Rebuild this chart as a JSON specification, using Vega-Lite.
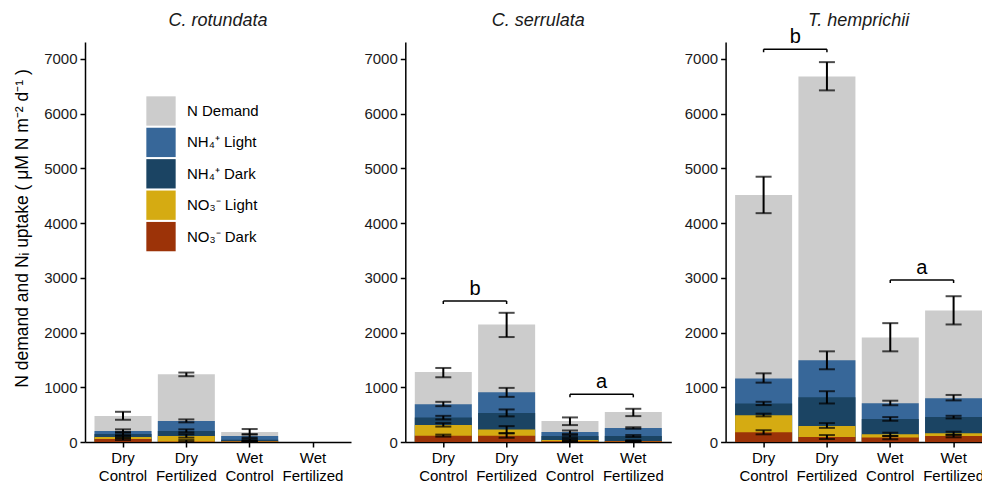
{
  "$schema": "https://vega.github.io/schema/vega-lite/v6.json",
  "padding": {"left": 13, "top": 11, "right": -10, "bottom": 1},
  "background": "white",
  "bounds": "flush",
  "spacing": 54.3,
  "config": {
    "font": "Liberation Sans",
    "view": {"stroke": null},
    "axis": {"grid": false, "domainColor": "black", "domainWidth": 1.5, "tickColor": "black", "tickWidth": 1.5, "tickSize": 5, "labelFont": "Liberation Sans", "labelFontSize": 15, "labelColor": "#1a1a1a", "titleFont": "Liberation Sans", "titleFontSize": 17.5, "titleFontWeight": "normal", "titleColor": "black"},
    "axisX": {"labelPadding": 3, "labelLineHeight": 18, "labelColor": "black", "labelFontSize": 15},
    "axisY": {"labelPadding": 3, "titlePadding": 12, "format": "d"},
    "title": {"font": "Liberation Sans", "fontSize": 18, "fontStyle": "italic", "fontWeight": "normal", "anchor": "middle", "frame": "group", "baseline": "alphabetic", "offset": 12, "color": "#1a1a1a"}
  },
  "datasets": {
    "bars": [
      {"species": "C. rotundata", "treatment": "Dry Control", "series": "N Demand", "value": 473, "lo": 406, "hi": 552},
      {"species": "C. rotundata", "treatment": "Dry Fertilized", "series": "N Demand", "value": 1238, "lo": 1202, "hi": 1269},
      {"species": "C. rotundata", "treatment": "Wet Control", "series": "N Demand", "value": 182, "lo": 140, "hi": 237},
      {"species": "C. serrulata", "treatment": "Dry Control", "series": "N Demand", "value": 1280, "lo": 1183, "hi": 1353},
      {"species": "C. serrulata", "treatment": "Dry Fertilized", "series": "N Demand", "value": 2148, "lo": 1918, "hi": 2361},
      {"species": "C. serrulata", "treatment": "Wet Control", "series": "N Demand", "value": 382, "lo": 309, "hi": 449},
      {"species": "C. serrulata", "treatment": "Wet Fertilized", "series": "N Demand", "value": 546, "lo": 473, "hi": 607},
      {"species": "T. hemprichii", "treatment": "Dry Control", "series": "N Demand", "value": 4515, "lo": 4182, "hi": 4848},
      {"species": "T. hemprichii", "treatment": "Dry Fertilized", "series": "N Demand", "value": 6681, "lo": 6426, "hi": 6942},
      {"species": "T. hemprichii", "treatment": "Wet Control", "series": "N Demand", "value": 1911, "lo": 1657, "hi": 2172},
      {"species": "T. hemprichii", "treatment": "Wet Fertilized", "series": "N Demand", "value": 2403, "lo": 2148, "hi": 2664},

      {"species": "C. rotundata", "treatment": "Dry Control", "series": "NH₄⁺ Light", "value": 200, "lo": 182, "hi": 231},
      {"species": "C. rotundata", "treatment": "Dry Fertilized", "series": "NH₄⁺ Light", "value": 382, "lo": 359, "hi": 413},
      {"species": "C. rotundata", "treatment": "Wet Control", "series": "NH₄⁺ Light", "value": 109, "lo": 80, "hi": 140},
      {"species": "C. serrulata", "treatment": "Dry Control", "series": "NH₄⁺ Light", "value": 692, "lo": 655, "hi": 734},
      {"species": "C. serrulata", "treatment": "Dry Fertilized", "series": "NH₄⁺ Light", "value": 910, "lo": 825, "hi": 989},
      {"species": "C. serrulata", "treatment": "Wet Control", "series": "NH₄⁺ Light", "value": 182, "lo": 150, "hi": 210},
      {"species": "C. serrulata", "treatment": "Wet Fertilized", "series": "NH₄⁺ Light", "value": 255, "lo": 242, "hi": 270},
      {"species": "T. hemprichii", "treatment": "Dry Control", "series": "NH₄⁺ Light", "value": 1160, "lo": 1085, "hi": 1255},
      {"species": "T. hemprichii", "treatment": "Dry Fertilized", "series": "NH₄⁺ Light", "value": 1493, "lo": 1329, "hi": 1657},
      {"species": "T. hemprichii", "treatment": "Wet Control", "series": "NH₄⁺ Light", "value": 710, "lo": 672, "hi": 755},
      {"species": "T. hemprichii", "treatment": "Wet Fertilized", "series": "NH₄⁺ Light", "value": 801, "lo": 760, "hi": 860},

      {"species": "C. rotundata", "treatment": "Dry Control", "series": "NH₄⁺ Dark", "value": 146, "lo": 125, "hi": 168},
      {"species": "C. rotundata", "treatment": "Dry Fertilized", "series": "NH₄⁺ Dark", "value": 200, "lo": 177, "hi": 231},
      {"species": "C. rotundata", "treatment": "Wet Control", "series": "NH₄⁺ Dark", "value": 40, "lo": 25, "hi": 60},
      {"species": "C. serrulata", "treatment": "Dry Control", "series": "NH₄⁺ Dark", "value": 450, "lo": 413, "hi": 478},
      {"species": "C. serrulata", "treatment": "Dry Fertilized", "series": "NH₄⁺ Dark", "value": 528, "lo": 468, "hi": 595},
      {"species": "C. serrulata", "treatment": "Wet Control", "series": "NH₄⁺ Dark", "value": 109, "lo": 85, "hi": 127},
      {"species": "C. serrulata", "treatment": "Wet Fertilized", "series": "NH₄⁺ Dark", "value": 109, "lo": 91, "hi": 127},
      {"species": "T. hemprichii", "treatment": "Dry Control", "series": "NH₄⁺ Dark", "value": 705, "lo": 675, "hi": 735},
      {"species": "T. hemprichii", "treatment": "Dry Fertilized", "series": "NH₄⁺ Dark", "value": 819, "lo": 704, "hi": 928},
      {"species": "T. hemprichii", "treatment": "Wet Control", "series": "NH₄⁺ Dark", "value": 420, "lo": 388, "hi": 455},
      {"species": "T. hemprichii", "treatment": "Wet Fertilized", "series": "NH₄⁺ Dark", "value": 455, "lo": 431, "hi": 479},

      {"species": "C. rotundata", "treatment": "Dry Control", "series": "NO₃⁻ Light", "value": 91, "lo": 70, "hi": 110},
      {"species": "C. rotundata", "treatment": "Dry Fertilized", "series": "NO₃⁻ Light", "value": 109, "lo": 80, "hi": 140},
      {"species": "C. rotundata", "treatment": "Wet Control", "series": "NO₃⁻ Light", "value": 15, "lo": 5, "hi": 25},
      {"species": "C. serrulata", "treatment": "Dry Control", "series": "NO₃⁻ Light", "value": 309, "lo": 282, "hi": 345},
      {"species": "C. serrulata", "treatment": "Dry Fertilized", "series": "NO₃⁻ Light", "value": 230, "lo": 160, "hi": 290},
      {"species": "C. serrulata", "treatment": "Wet Control", "series": "NO₃⁻ Light", "value": 36, "lo": 20, "hi": 55},
      {"species": "C. serrulata", "treatment": "Wet Fertilized", "series": "NO₃⁻ Light", "value": 20, "lo": 10, "hi": 30},
      {"species": "T. hemprichii", "treatment": "Dry Control", "series": "NO₃⁻ Light", "value": 490, "lo": 468, "hi": 518},
      {"species": "T. hemprichii", "treatment": "Dry Fertilized", "series": "NO₃⁻ Light", "value": 291, "lo": 258, "hi": 345},
      {"species": "T. hemprichii", "treatment": "Wet Control", "series": "NO₃⁻ Light", "value": 140, "lo": 109, "hi": 170},
      {"species": "T. hemprichii", "treatment": "Wet Fertilized", "series": "NO₃⁻ Light", "value": 158, "lo": 130, "hi": 188},

      {"species": "C. rotundata", "treatment": "Dry Control", "series": "NO₃⁻ Dark", "value": 55, "lo": 35, "hi": 75},
      {"species": "C. rotundata", "treatment": "Dry Fertilized", "series": "NO₃⁻ Dark", "value": 8, "lo": 0, "hi": 35},
      {"species": "C. rotundata", "treatment": "Wet Control", "series": "NO₃⁻ Dark", "value": 8, "lo": 2, "hi": 15},
      {"species": "C. serrulata", "treatment": "Dry Control", "series": "NO₃⁻ Dark", "value": 115, "lo": 98, "hi": 135},
      {"species": "C. serrulata", "treatment": "Dry Fertilized", "series": "NO₃⁻ Dark", "value": 115, "lo": 78, "hi": 160},
      {"species": "C. serrulata", "treatment": "Wet Control", "series": "NO₃⁻ Dark", "value": 12, "lo": 5, "hi": 20},
      {"species": "C. serrulata", "treatment": "Wet Fertilized", "series": "NO₃⁻ Dark", "value": 12, "lo": 5, "hi": 20},
      {"species": "T. hemprichii", "treatment": "Dry Control", "series": "NO₃⁻ Dark", "value": 180, "lo": 140, "hi": 215},
      {"species": "T. hemprichii", "treatment": "Dry Fertilized", "series": "NO₃⁻ Dark", "value": 91, "lo": 55, "hi": 127},
      {"species": "T. hemprichii", "treatment": "Wet Control", "series": "NO₃⁻ Dark", "value": 80, "lo": 50, "hi": 110},
      {"species": "T. hemprichii", "treatment": "Wet Fertilized", "series": "NO₃⁻ Dark", "value": 109, "lo": 85, "hi": 132}
    ],
    "brackets": [
      {"species": "C. serrulata", "left": "Dry Control", "right": "Dry Fertilized", "y": 2577, "ylow": 2522, "label": "b", "labely": 2690},
      {"species": "C. serrulata", "left": "Wet Control", "right": "Wet Fertilized", "y": 871, "ylow": 816, "label": "a", "labely": 985},
      {"species": "T. hemprichii", "left": "Dry Control", "right": "Dry Fertilized", "y": 7178, "ylow": 7123, "label": "b", "labely": 7292},
      {"species": "T. hemprichii", "left": "Wet Control", "right": "Wet Fertilized", "y": 2961, "ylow": 2906, "label": "a", "labely": 3078}
    ]
  },
  "resolve": {"scale": {"color": "independent"}, "legend": {"color": "independent"}},
  "hconcat": [
    {
      "width": 266, "height": 400,
      "title": {"text": "C. rotundata"},
      "layer": [
        {
          "data": {"name": "bars"},
          "transform": [{"filter": "datum.species === 'C. rotundata'"}],
          "mark": {"type": "bar"},
          "encoding": {
            "x": {"field": "treatment", "type": "nominal", "title": null, "scale": {"domain": ["Dry Control", "Dry Fertilized", "Wet Control", "Wet Fertilized"], "paddingInner": 0.1, "paddingOuter": 0.15}, "axis": {"labelExpr": "split(datum.label, ' ')", "labelAngle": 0}},
            "y": {"field": "value", "type": "quantitative", "stack": null, "title": "N demand and Nᵢ uptake ( μM N m⁻² d⁻¹ )", "scale": {"domain": [0, 7310], "nice": false}, "axis": {"values": [0, 1000, 2000, 3000, 4000, 5000, 6000, 7000], "titleY": 186}},
            "color": {"field": "series", "type": "nominal", "sort": null,
              "scale": {"domain": ["N Demand", "NH₄⁺ Light", "NH₄⁺ Dark", "NO₃⁻ Light", "NO₃⁻ Dark"], "range": ["#CCCCCC", "#376799", "#1B4463", "#D5AB12", "#9C3308"]},
              "legend": {"title": null, "orient": "none", "legendX": 61, "legendY": 54, "symbolType": "square", "symbolSize": 860, "symbolStrokeWidth": 0, "labelFontSize": 15, "labelOffset": 11, "rowPadding": 1.4, "padding": 0, "labelColor": "black", "labelFont": "Liberation Sans"}}
          }
        },
        {
          "data": {"name": "bars"},
          "transform": [{"filter": "datum.species === 'C. rotundata'"}],
          "mark": {"type": "errorbar", "ticks": true, "size": 16, "thickness": 2, "color": "black"},
          "encoding": {
            "x": {"field": "treatment", "type": "nominal"},
            "y": {"field": "lo", "type": "quantitative", "title": "N demand and Nᵢ uptake ( μM N m⁻² d⁻¹ )"},
            "y2": {"field": "hi"}
          }
        }
      ]
    },
    {
      "width": 266, "height": 400,
      "title": {"text": "C. serrulata"},
      "layer": [
        {
          "data": {"name": "bars"},
          "transform": [{"filter": "datum.species === 'C. serrulata'"}],
          "mark": {"type": "bar"},
          "encoding": {
            "x": {"field": "treatment", "type": "nominal", "title": null, "scale": {"domain": ["Dry Control", "Dry Fertilized", "Wet Control", "Wet Fertilized"], "paddingInner": 0.1, "paddingOuter": 0.15}, "axis": {"labelExpr": "split(datum.label, ' ')", "labelAngle": 0}},
            "y": {"field": "value", "type": "quantitative", "stack": null, "title": null, "scale": {"domain": [0, 7310], "nice": false}, "axis": {"values": [0, 1000, 2000, 3000, 4000, 5000, 6000, 7000], "title": null}},
            "color": {"field": "series", "type": "nominal", "sort": null,
              "scale": {"domain": ["N Demand", "NH₄⁺ Light", "NH₄⁺ Dark", "NO₃⁻ Light", "NO₃⁻ Dark"], "range": ["#CCCCCC", "#376799", "#1B4463", "#D5AB12", "#9C3308"]},
              "legend": null}
          }
        },
        {
          "data": {"name": "bars"},
          "transform": [{"filter": "datum.species === 'C. serrulata'"}],
          "mark": {"type": "errorbar", "ticks": true, "size": 16, "thickness": 2, "color": "black"},
          "encoding": {
            "x": {"field": "treatment", "type": "nominal"},
            "y": {"field": "lo", "type": "quantitative", "title": null},
            "y2": {"field": "hi"}
          }
        },
        {
          "data": {"name": "brackets"},
          "transform": [{"filter": "datum.species === 'C. serrulata'"}],
          "mark": {"type": "rule", "strokeWidth": 1.5, "color": "black"},
          "encoding": {"x": {"field": "left", "type": "nominal"}, "x2": {"field": "right"}, "y": {"field": "y", "type": "quantitative", "title": null}}
        },
        {
          "data": {"name": "brackets"},
          "transform": [{"filter": "datum.species === 'C. serrulata'"}],
          "mark": {"type": "rule", "strokeWidth": 1.5, "color": "black"},
          "encoding": {"x": {"field": "left", "type": "nominal"}, "y": {"field": "y", "type": "quantitative", "title": null}, "y2": {"field": "ylow"}}
        },
        {
          "data": {"name": "brackets"},
          "transform": [{"filter": "datum.species === 'C. serrulata'"}],
          "mark": {"type": "rule", "strokeWidth": 1.5, "color": "black"},
          "encoding": {"x": {"field": "right", "type": "nominal"}, "y": {"field": "y", "type": "quantitative", "title": null}, "y2": {"field": "ylow"}}
        },
        {
          "data": {"name": "brackets"},
          "transform": [{"filter": "datum.species === 'C. serrulata'"}],
          "mark": {"type": "text", "fontSize": 20, "baseline": "alphabetic", "align": "center", "color": "black", "font": "Liberation Sans"},
          "encoding": {"x": {"field": "left", "type": "nominal", "bandPosition": 1.0556}, "y": {"field": "labely", "type": "quantitative", "title": null}, "text": {"field": "label"}}
        }
      ]
    },
    {
      "width": 266, "height": 400,
      "title": {"text": "T. hemprichii", "offset": -3},
      "layer": [
        {
          "data": {"name": "bars"},
          "transform": [{"filter": "datum.species === 'T. hemprichii'"}],
          "mark": {"type": "bar"},
          "encoding": {
            "x": {"field": "treatment", "type": "nominal", "title": null, "scale": {"domain": ["Dry Control", "Dry Fertilized", "Wet Control", "Wet Fertilized"], "paddingInner": 0.1, "paddingOuter": 0.15}, "axis": {"labelExpr": "split(datum.label, ' ')", "labelAngle": 0}},
            "y": {"field": "value", "type": "quantitative", "stack": null, "title": null, "scale": {"domain": [0, 7310], "nice": false}, "axis": {"values": [0, 1000, 2000, 3000, 4000, 5000, 6000, 7000], "title": null}},
            "color": {"field": "series", "type": "nominal", "sort": null,
              "scale": {"domain": ["N Demand", "NH₄⁺ Light", "NH₄⁺ Dark", "NO₃⁻ Light", "NO₃⁻ Dark"], "range": ["#CCCCCC", "#376799", "#1B4463", "#D5AB12", "#9C3308"]},
              "legend": null}
          }
        },
        {
          "data": {"name": "bars"},
          "transform": [{"filter": "datum.species === 'T. hemprichii'"}],
          "mark": {"type": "errorbar", "ticks": true, "size": 16, "thickness": 2, "color": "black"},
          "encoding": {
            "x": {"field": "treatment", "type": "nominal"},
            "y": {"field": "lo", "type": "quantitative", "title": null},
            "y2": {"field": "hi"}
          }
        },
        {
          "data": {"name": "brackets"},
          "transform": [{"filter": "datum.species === 'T. hemprichii'"}],
          "mark": {"type": "rule", "strokeWidth": 1.5, "color": "black"},
          "encoding": {"x": {"field": "left", "type": "nominal"}, "x2": {"field": "right"}, "y": {"field": "y", "type": "quantitative", "title": null}}
        },
        {
          "data": {"name": "brackets"},
          "transform": [{"filter": "datum.species === 'T. hemprichii'"}],
          "mark": {"type": "rule", "strokeWidth": 1.5, "color": "black"},
          "encoding": {"x": {"field": "left", "type": "nominal"}, "y": {"field": "y", "type": "quantitative", "title": null}, "y2": {"field": "ylow"}}
        },
        {
          "data": {"name": "brackets"},
          "transform": [{"filter": "datum.species === 'T. hemprichii'"}],
          "mark": {"type": "rule", "strokeWidth": 1.5, "color": "black"},
          "encoding": {"x": {"field": "right", "type": "nominal"}, "y": {"field": "y", "type": "quantitative", "title": null}, "y2": {"field": "ylow"}}
        },
        {
          "data": {"name": "brackets"},
          "transform": [{"filter": "datum.species === 'T. hemprichii'"}],
          "mark": {"type": "text", "fontSize": 20, "baseline": "alphabetic", "align": "center", "color": "black", "font": "Liberation Sans"},
          "encoding": {"x": {"field": "left", "type": "nominal", "bandPosition": 1.0556}, "y": {"field": "labely", "type": "quantitative", "title": null}, "text": {"field": "label"}}
        }
      ]
    }
  ]
}
